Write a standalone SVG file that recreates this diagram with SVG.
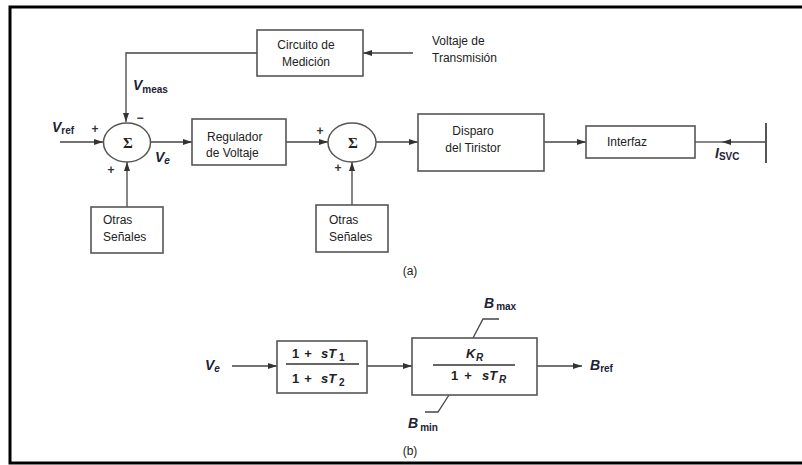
<svg xmlns="http://www.w3.org/2000/svg" width="802" height="465" viewBox="0 0 802 465">
<defs>
<marker id="arr" markerWidth="9" markerHeight="6" refX="9" refY="3" orient="auto" markerUnits="userSpaceOnUse">
<path d="M0,0 L9,3 L0,6 z" fill="#333"/>
</marker>
<style>
.box{fill:#fff;stroke:#555;stroke-width:1.6}
.sum{fill:#fff;stroke:#555;stroke-width:1.5}
.ln{stroke:#444;stroke-width:1.3;fill:none}
.t{font-family:"Liberation Sans",Arial,sans-serif;font-size:12px;fill:#222}
.sg{font-family:"Liberation Serif","Times New Roman",serif;font-size:15px;font-weight:bold;fill:#222;text-anchor:middle}
.v{font-family:"Liberation Sans",Arial,sans-serif;font-size:14px;font-style:italic;font-weight:bold;fill:#223}
.s{font-family:"Liberation Sans",Arial,sans-serif;font-size:10px;font-weight:bold;fill:#223}
.m{font-family:"Liberation Sans",Arial,sans-serif;font-size:13px;font-weight:bold;fill:#222}
.mi{font-family:"Liberation Sans",Arial,sans-serif;font-size:13px;font-weight:bold;font-style:italic;fill:#222}
.pm{font-family:"Liberation Sans",Arial,sans-serif;font-size:12px;font-weight:bold;fill:#333}
</style>
</defs>
<rect x="0" y="0" width="802" height="465" fill="#fff"/>
<path d="M806,7 H10 V463 H806" fill="none" stroke="#000" stroke-width="3"/>

<g id="connectors">
<path class="ln" d="M413,53 H363" marker-end="url(#arr)"/>
<path class="ln" d="M257,53 H126 V122" marker-end="url(#arr)"/>
<path class="ln" d="M60,142 H103" marker-end="url(#arr)"/>
<path class="ln" d="M150,142 H192" marker-end="url(#arr)"/>
<path class="ln" d="M127,207 V162" marker-end="url(#arr)"/>
<path class="ln" d="M286,142 H328" marker-end="url(#arr)"/>
<path class="ln" d="M352,205 V162" marker-end="url(#arr)"/>
<path class="ln" d="M376,142 H418" marker-end="url(#arr)"/>
<path class="ln" d="M544,142 H586" marker-end="url(#arr)"/>
<path class="ln" d="M766,142 H722" marker-end="url(#arr)"/>
<path class="ln" d="M722,142 H695"/>
<path d="M766,123 V163" stroke="#555" stroke-width="2" fill="none"/>
<path class="ln" d="M232,366 H277" marker-end="url(#arr)"/>
<path class="ln" d="M367,366 H412" marker-end="url(#arr)"/>
<path class="ln" d="M537,366 H582" marker-end="url(#arr)"/>
<path class="ln" d="M473,338 L483,319 H499"/>
<path class="ln" d="M449,395 L438,412 H425"/>
</g>

<g id="circuito">
<rect class="box" x="257" y="30" width="106" height="46"/>
<text class="t" x="306" y="49" text-anchor="middle">Circuito de</text>
<text class="t" x="306" y="66" text-anchor="middle">Medición</text>
</g>

<g id="voltaje-transmision">
<text class="t" x="432" y="45">Voltaje de</text>
<text class="t" x="432" y="62">Transmisión</text>
</g>

<g id="sum1">
<ellipse class="sum" cx="127" cy="142.5" rx="23.5" ry="19.5"/>
<text class="sg" x="128" y="148">Σ</text>
<text class="pm" x="95" y="133" text-anchor="middle">+</text>
<text class="pm" x="140" y="122" text-anchor="middle">−</text>
<text class="pm" x="111" y="174" text-anchor="middle">+</text>
</g>

<g id="labels-a">
<text class="v" x="52" y="132">V<tspan class="s" font-style="normal" dy="2">ref</tspan></text>
<text class="v" x="133" y="90">V<tspan class="s" font-style="normal" dy="3">meas</tspan></text>
<text class="v" x="155" y="162">V<tspan class="s" font-style="italic" dy="2">e</tspan></text>
<text class="v" x="715" y="158" font-size="13">I<tspan class="s" font-style="normal" dy="2" font-size="11">SVC</tspan></text>
</g>

<g id="otras1">
<rect class="box" x="91" y="207" width="72" height="46"/>
<text class="t" x="103" y="224">Otras</text>
<text class="t" x="103" y="241">Señales</text>
</g>

<g id="regulador">
<rect class="box" x="192" y="119" width="94" height="46"/>
<text class="t" x="207" y="141">Regulador</text>
<text class="t" x="206" y="157">de Voltaje</text>
</g>

<g id="sum2">
<ellipse class="sum" cx="352" cy="142.5" rx="24" ry="19.5"/>
<text class="sg" x="353" y="148">Σ</text>
<text class="pm" x="320" y="135" text-anchor="middle">+</text>
<text class="pm" x="338" y="172" text-anchor="middle">+</text>
</g>

<g id="otras2">
<rect class="box" x="316" y="205" width="72" height="47"/>
<text class="t" x="329" y="224">Otras</text>
<text class="t" x="329" y="241">Señales</text>
</g>

<g id="disparo">
<rect class="box" x="418" y="114" width="126" height="57"/>
<text class="t" x="473" y="135" text-anchor="middle">Disparo</text>
<text class="t" x="473" y="152" text-anchor="middle">del Tiristor</text>
</g>

<g id="interfaz">
<rect class="box" x="586" y="126" width="109" height="32"/>
<text class="t" x="607" y="146">Interfaz</text>
</g>

<text class="t" x="410" y="275" text-anchor="middle">(a)</text>

<g id="ve-b">
<text class="v" x="205" y="370">V<tspan class="s" font-style="italic" dy="2">e</tspan></text>
</g>

<g id="lead-lag">
<rect class="box" x="277" y="341" width="90" height="52"/>
<text class="m" x="292" y="358">1</text>
<text class="m" x="308" y="358" text-anchor="middle" font-size="14">+</text>
<text class="mi" x="321" y="358">sT</text>
<text class="s" x="339" y="361">1</text>
<path d="M286,364 H359" stroke="#333" stroke-width="1.3"/>
<text class="m" x="292" y="383">1</text>
<text class="m" x="308" y="383" text-anchor="middle" font-size="14">+</text>
<text class="mi" x="321" y="383">sT</text>
<text class="s" x="339" y="386">2</text>
</g>

<g id="regulator-b">
<rect class="box" x="412" y="338" width="125" height="57"/>
<text class="mi" x="466" y="358">K</text>
<text class="s" x="476" y="361" font-style="italic">R</text>
<path d="M433,365 H515" stroke="#333" stroke-width="1.3"/>
<text class="m" x="451" y="380">1</text>
<text class="m" x="468" y="380" text-anchor="middle" font-size="14">+</text>
<text class="mi" x="482" y="380">sT</text>
<text class="s" x="499" y="383" font-style="italic">R</text>
</g>

<g id="labels-b">
<text class="v" x="484" y="308">B<tspan class="s" font-style="normal" font-weight="normal" dx="2" dy="2">max</tspan></text>
<text class="v" x="408" y="428">B<tspan class="s" font-style="normal" font-weight="normal" dx="2" dy="3">min</tspan></text>
<text class="v" x="590" y="370">B<tspan class="s" font-style="normal" dy="2">ref</tspan></text>
</g>

<text class="t" x="410" y="455" text-anchor="middle">(b)</text>
</svg>
